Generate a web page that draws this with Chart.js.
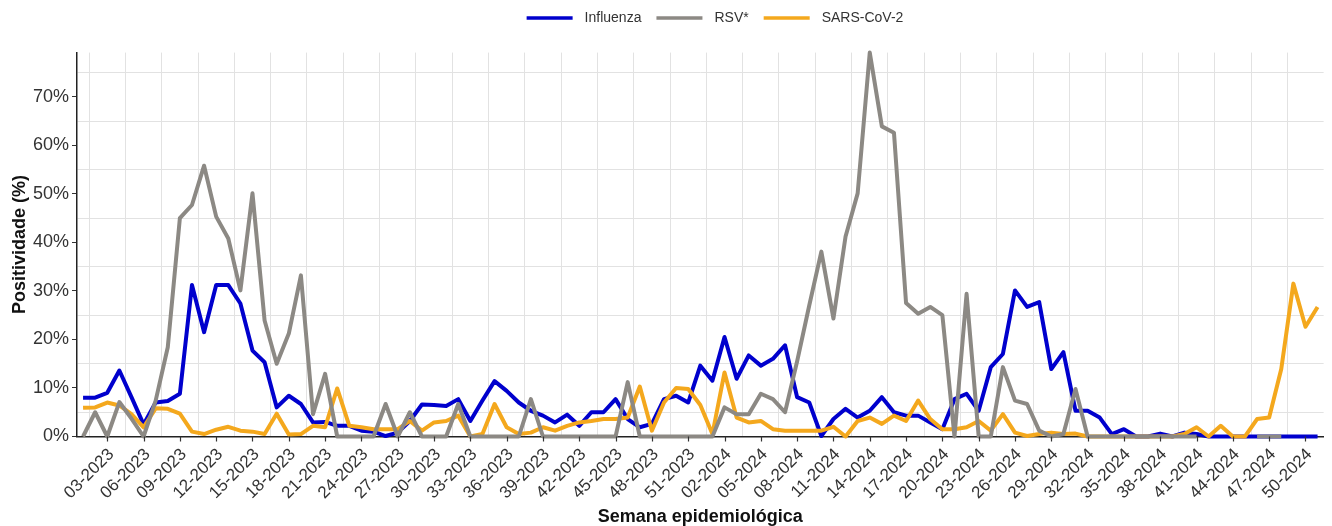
<!DOCTYPE html>
<html lang="pt">
<head>
<meta charset="utf-8">
<title>Positividade por semana epidemiológica</title>
<script src="https://cdn.jsdelivr.net/npm/chart.js@4.4.1/dist/chart.umd.min.js"></script>
<style>
  html, body { margin: 0; padding: 0; background: #ffffff; overflow: hidden; }
  #wrap { width: 1335px; height: 526px; }
</style>
</head>
<body>
<div id="wrap"><canvas id="chart" width="1335" height="526"></canvas></div>
<script>
// Epidemiological weeks, 01-2023 .. 51-2024
const weeks = [
  '01-2023','02-2023','03-2023','04-2023','05-2023','06-2023','07-2023','08-2023','09-2023','10-2023',
  '11-2023','12-2023','13-2023','14-2023','15-2023','16-2023','17-2023','18-2023','19-2023','20-2023',
  '21-2023','22-2023','23-2023','24-2023','25-2023','26-2023','27-2023','28-2023','29-2023','30-2023',
  '31-2023','32-2023','33-2023','34-2023','35-2023','36-2023','37-2023','38-2023','39-2023','40-2023',
  '41-2023','42-2023','43-2023','44-2023','45-2023','46-2023','47-2023','48-2023','49-2023','50-2023',
  '51-2023','52-2023',
  '01-2024','02-2024','03-2024','04-2024','05-2024','06-2024','07-2024','08-2024','09-2024','10-2024',
  '11-2024','12-2024','13-2024','14-2024','15-2024','16-2024','17-2024','18-2024','19-2024','20-2024',
  '21-2024','22-2024','23-2024','24-2024','25-2024','26-2024','27-2024','28-2024','29-2024','30-2024',
  '31-2024','32-2024','33-2024','34-2024','35-2024','36-2024','37-2024','38-2024','39-2024','40-2024',
  '41-2024','42-2024','43-2024','44-2024','45-2024','46-2024','47-2024','48-2024','49-2024','50-2024',
  '51-2024'
];

const seriesNames = ['Influenza', 'RSV*', 'SARS-CoV-2'];

// Positivity (%) per week
const influenza = [
  8.0, 8.0, 9.0, 13.6, 8.1, 2.5, 7.0, 7.3, 8.8, 31.2,
  21.5, 31.2, 31.2, 27.4, 17.7, 15.3, 6.0, 8.4, 6.7, 2.9,
  3.0, 2.2, 2.2, 1.2, 1.0, 0.1, 0.8, 3.2, 6.6, 6.5,
  6.3, 7.7, 3.2, 7.4, 11.4, 9.4, 7.0, 5.3, 4.3, 2.9,
  4.5, 2.2, 5.0, 5.0, 7.7, 3.6, 1.9, 2.6, 7.7, 8.4,
  7.0, 14.6, 11.5, 20.5, 11.9, 16.7, 14.6, 16.0, 18.8, 8.1,
  7.0, 0.1, 3.6, 5.7, 3.9, 5.3, 8.1, 5.0, 4.3, 4.3,
  2.9, 1.5, 7.7, 8.8, 5.3, 14.3, 17.0, 30.1, 26.7, 27.7,
  13.9, 17.4, 5.3, 5.3, 3.9, 0.5, 1.5, 0.0, 0.0, 0.6,
  0.0, 0.8, 0.5, 0.0, 0.0, 0.0, 0.0, 0.0, 0.0, 0.0,
  0.0, 0.0, 0.0
];

const rsv = [
  0.0, 5.0, 0.0, 7.1, 3.7, 0.0, 7.4, 18.4, 45.0, 47.7,
  55.8, 45.3, 40.8, 30.1, 50.1, 23.9, 15.0, 21.2, 33.2, 4.6,
  12.9, 0.0, 0.0, 0.0, 0.0, 6.7, 0.0, 5.0, 0.0, 0.0,
  0.0, 6.7, 0.0, 0.0, 0.0, 0.0, 0.0, 7.7, 0.0, 0.0,
  0.0, 0.0, 0.0, 0.0, 0.0, 11.2, 0.0, 0.0, 0.0, 0.0,
  0.0, 0.0, 0.0, 6.0, 4.6, 4.6, 8.8, 7.7, 5.0, 15.5,
  27.0, 38.1, 24.3, 41.2, 50.1, 79.1, 63.9, 62.6, 27.5, 25.3,
  26.7, 25.0, 0.0, 29.4, 0.0, 0.0, 14.3, 7.4, 6.7, 1.2,
  0.0, 0.5, 9.8, 0.0, 0.0, 0.0, 0.0, 0.0, 0.0, 0.0,
  0.0, 0.0, 0.0, null, null, null, null, 0.0, 0.0, 0.0,
  null, null, null
];

const sarsCov2 = [
  5.9, 6.0, 7.0, 6.4, 4.6, 1.9, 5.8, 5.7, 4.7, 1.0,
  0.5, 1.4, 2.0, 1.2, 1.0, 0.5, 4.7, 0.4, 0.5, 2.2,
  1.9, 9.9, 2.2, 1.9, 1.5, 1.5, 1.5, 3.2, 1.2, 2.9,
  3.2, 4.3, 0.0, 0.5, 6.7, 1.9, 0.5, 0.8, 1.9, 1.2,
  2.2, 2.9, 3.2, 3.6, 3.6, 3.9, 10.3, 1.2, 7.0, 10.0,
  9.8, 6.5, 0.5, 13.2, 3.9, 2.9, 3.2, 1.5, 1.2, 1.2,
  1.2, 1.2, 2.0, 0.0, 3.2, 3.9, 2.6, 4.3, 3.2, 7.4,
  3.6, 1.5, 1.5, 1.9, 3.2, 1.2, 4.6, 0.8, 0.1, 0.5,
  0.8, 0.5, 0.6, 0.0, 0.0, 0.0, 0.0, 0.0, 0.0, 0.0,
  0.0, 0.5, 1.9, 0.0, 2.2, 0.0, 0.0, 3.6, 3.9, 13.9,
  31.5, 22.6, 26.7
];

const FONT = '"Liberation Sans", Arial, Helvetica, sans-serif';
const GRID = '#e2e2e2';
const INK = '#222222';
const NONE = 'rgba(0,0,0,0)';

const yMax = Math.max(...[...influenza, ...rsv, ...sarsCov2].filter(v => v !== null));

// Tick marks under the labelled weeks and the legend row across the top
const decorations = {
  id: 'decorations',
  afterDraw(chart) {
    const { ctx, chartArea, scales: { x } } = chart;
    ctx.save();
    ctx.strokeStyle = '#333333';
    ctx.lineWidth = 1.2;
    for (let i = 2; i < weeks.length; i += 3) {
      const px = Math.round(x.getPixelForValue(i)) + 0.5;
      ctx.beginPath();
      ctx.moveTo(px, chartArea.bottom);
      ctx.lineTo(px, chartArea.bottom + 5);
      ctx.stroke();
    }

    ctx.font = '14px ' + FONT;
    ctx.textBaseline = 'middle';
    const lineLen = 46, gapText = 12, gapItem = 15, cy = 18, cx = 715;
    const items = chart.data.datasets.map(d => ({
      label: d.label, color: d.borderColor, w: ctx.measureText(d.label).width
    }));
    const total = items.reduce((s, it) => s + lineLen + gapText + it.w, 0) + gapItem * (items.length - 1);
    let lx = cx - total / 2;
    items.forEach(it => {
      ctx.strokeStyle = it.color;
      ctx.lineWidth = 3.5;
      ctx.lineCap = 'butt';
      ctx.beginPath();
      ctx.moveTo(lx, cy);
      ctx.lineTo(lx + lineLen, cy);
      ctx.stroke();
      lx += lineLen + gapText;
      ctx.fillStyle = '#333333';
      ctx.fillText(it.label, lx, cy);
      lx += it.w + gapItem;
    });
    ctx.restore();
  }
};

const lineStyle = {
  borderWidth: 4,
  pointRadius: 0,
  pointHoverRadius: 0,
  tension: 0,
  borderJoinStyle: 'round',
  borderCapStyle: 'butt',
  clip: false,
  fill: false
};

new Chart(document.getElementById('chart'), {
  type: 'line',
  data: {
    labels: weeks,
    datasets: [
      { ...lineStyle, label: seriesNames[0], data: influenza, borderColor: '#0000CD', backgroundColor: '#0000CD', order: 2 },
      { ...lineStyle, label: seriesNames[1], data: rsv, borderColor: '#8C8984', backgroundColor: '#8C8984', order: 0 },
      { ...lineStyle, label: seriesNames[2], data: sarsCov2, borderColor: '#F4A81D', backgroundColor: '#F4A81D', order: 1 }
    ]
  },
  options: {
    responsive: false,
    animation: false,
    events: [],
    layout: { padding: { top: 52.6, left: 0, right: 0, bottom: 0 } },
    plugins: { legend: { display: false }, tooltip: { enabled: false } },
    scales: {
      x: {
        type: 'category',
        offset: true,
        afterFit(scale) { scale.height = 89.5; },
        border: { display: true, color: INK, width: 1.5 },
        grid: {
          offset: true,
          lineWidth: 1,
          color: c => (c.index < weeks.length && c.index % 3 === 1) ? GRID : NONE,
          tickColor: NONE,
          tickLength: 5
        },
        ticks: {
          autoSkip: false,
          minRotation: 45,
          maxRotation: 45,
          labelOffset: 4,
          padding: 3,
          color: '#333333',
          font: { family: FONT, size: 17 },
          callback: (v, i) => (i % 3 === 2 ? weeks[i] : '')
        },
        title: {
          display: true,
          text: 'Semana epidemiológica',
          color: '#111111',
          font: { family: FONT, size: 18, weight: 'bold', lineHeight: 1 },
          padding: 0
        }
      },
      y: {
        min: 0,
        max: yMax,
        afterFit(scale) { scale.width = 77; },
        border: { display: true, color: INK, width: 1.5 },
        grid: {
          lineWidth: 1,
          color: c => (c.tick && Math.round(c.tick.value) % 10 === 5) ? GRID : NONE,
          tickColor: c => (c.tick && Math.round(c.tick.value) % 10 === 0) ? '#333333' : NONE,
          tickLength: 5
        },
        ticks: {
          stepSize: 5,
          includeBounds: false,
          padding: 3,
          color: '#333333',
          font: { family: FONT, size: 18 },
          callback: v => (Math.round(v) % 10 === 0 ? Math.round(v) + '%' : '')
        },
        title: {
          display: true,
          text: 'Positividade (%)',
          color: '#111111',
          font: { family: FONT, size: 18, weight: 'bold', lineHeight: 1 },
          padding: { top: 11, bottom: 0 }
        }
      }
    }
  },
  plugins: [decorations]
});
</script>
</body>
</html>
